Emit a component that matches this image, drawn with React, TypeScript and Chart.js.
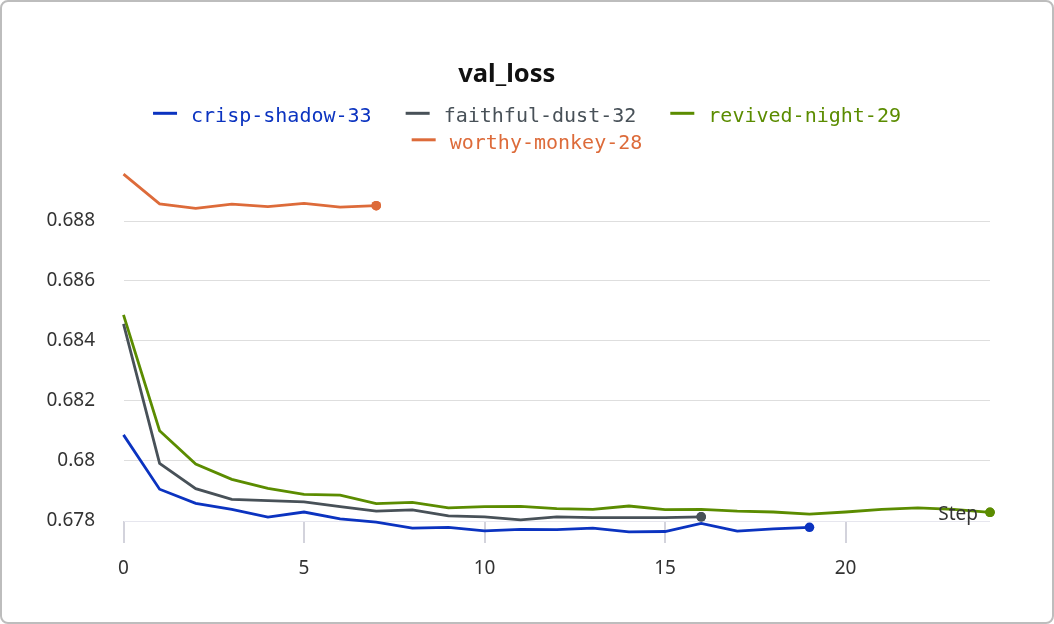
import React, { useEffect, useRef } from 'react';
import { Chart, registerables } from 'chart.js';

Chart.register(...registerables);

// ---- data ----
const chartTitle = 'val_loss';
const xAxisTitle = 'Step';
const steps = [0, 1, 2, 3, 4, 5, 6, 7, 8, 9, 10, 11, 12, 13, 14, 15, 16, 17, 18, 19, 20, 21, 22, 23, 24];

const seriesNames = ['crisp-shadow-33', 'faithful-dust-32', 'revived-night-29', 'worthy-monkey-28'];
const seriesColors = ['#0b33c0', '#485158', '#5b8c00', '#dd6b3a'];

const crispShadow33 = [
  0.68087, 0.67906, 0.67859, 0.67839, 0.67813, 0.6783, 0.67807, 0.67796, 0.67776, 0.67779,
  0.67767, 0.67772, 0.67771, 0.67776, 0.67764, 0.67765, 0.67792, 0.67766, 0.67774, 0.67779,
];
const faithfulDust32 = [
  0.68457, 0.67992, 0.67908, 0.67872, 0.67868, 0.67864, 0.67848, 0.67833, 0.67837, 0.67817,
  0.67814, 0.67804, 0.67814, 0.67811, 0.67811, 0.67811, 0.67814,
];
const revivedNight29 = [
  0.68487, 0.68101, 0.6799, 0.67939, 0.67909, 0.67889, 0.67886, 0.67858, 0.67862, 0.67844,
  0.67848, 0.67849, 0.67841, 0.67839, 0.6785, 0.67838, 0.67839, 0.67833, 0.6783, 0.67823,
  0.6783, 0.67839, 0.67844, 0.67839, 0.67829,
];
const worthyMonkey28 = [0.68956, 0.68857, 0.68842, 0.68856, 0.68848, 0.68859, 0.68846, 0.68851];

const seriesValues = [crispShadow33, faithfulDust32, revivedNight29, worthyMonkey28];

const yMin = 0.678;
const yMax = 0.6898;
const yStep = 0.002;
const xMin = 0;
const xMax = 24;
const xStep = 5;

const tickFont = { family: '"Noto Sans", sans-serif', size: 19 };
const legendFont = '20px "DejaVu Sans Mono", monospace';

const rowLegend = {
  id: 'rowLegend',
  afterDraw(chart: any) {
    const ctx = chart.ctx;
    ctx.save();
    ctx.font = legendFont;
    const boxW = 24;
    const textGap = 14;
    const itemGap = 34;
    const maxW = 900;
    const items = chart.data.datasets.map((ds: any) => ({
      text: ds.label,
      color: ds.borderColor,
      w: boxW + textGap + ctx.measureText(ds.label).width,
    }));
    const rows: any[] = [];
    let cur: any[] = [];
    let curW = 0;
    items.forEach((it: any) => {
      const add = cur.length ? itemGap + it.w : it.w;
      if (cur.length && curW + add > maxW) {
        rows.push({ items: cur, w: curW });
        cur = [it];
        curW = it.w;
      } else {
        cur.push(it);
        curW += add;
      }
    });
    if (cur.length) rows.push({ items: cur, w: curW });
    rows.forEach((row: any, r: number) => {
      let x = chart.width / 2 - row.w / 2;
      const base = 120 + r * 26.5;
      row.items.forEach((it: any) => {
        ctx.fillStyle = it.color;
        ctx.fillRect(x, base - 10.2, boxW, 3);
        ctx.textAlign = 'left';
        ctx.textBaseline = 'alphabetic';
        ctx.fillText(it.text, x + boxW + textGap, base);
        x += it.w + itemGap;
      });
    });
    ctx.restore();
  },
};

// draws the "Step" axis caption inside the plot and makes sure each run's
// end marker (a Chart.js point element) is drawn even when it dips below the axis line
const stepLabel = {
  id: 'stepLabel',
  afterDatasetsDraw(chart: any) {
    const { ctx, chartArea } = chart;
    const wide = { left: -1e4, top: -1e4, right: 1e4, bottom: 1e4 };
    chart.getSortedVisibleDatasetMetas().forEach((meta: any) => {
      const el = meta.data[meta.data.length - 1];
      if (el) el.draw(ctx, wide);
    });
    ctx.save();
    ctx.font = '19px "Noto Sans", sans-serif';
    ctx.fillStyle = '#333333';
    ctx.textAlign = 'right';
    ctx.textBaseline = 'alphabetic';
    ctx.fillText(xAxisTitle, chartArea.right - 12, chartArea.bottom - 1);
    ctx.restore();
  },
};

export default function App() {
  const canvasRef = useRef<HTMLCanvasElement | null>(null);

  useEffect(() => {
    if (!canvasRef.current) return;
    const datasets = seriesNames.map((name, i) => {
      const vals = seriesValues[i];
      return {
        label: name,
        data: vals.map((v, j) => ({ x: steps[j], y: v })),
        borderColor: seriesColors[i],
        backgroundColor: seriesColors[i],
        borderWidth: 2.8,
        tension: 0,
        clip: false as any,
        pointRadius: vals.map((_, j) => (j === vals.length - 1 ? 4.8 : 0)),
        pointHoverRadius: 0,
        pointBorderWidth: 0,
        pointBackgroundColor: seriesColors[i],
        fill: false,
      };
    });

    const chart = new Chart(canvasRef.current, {
      type: 'line',
      data: { datasets },
      plugins: [rowLegend, stepLabel],
      options: {
        animation: false,
        responsive: true,
        maintainAspectRatio: false,
        layout: { padding: { left: 21.5, right: 62, top: 0, bottom: 0 } },
        plugins: {
          legend: { display: false },
          tooltip: { enabled: false },
          title: {
            display: true,
            text: chartTitle,
            color: '#111111',
            font: { family: '"Noto Sans", sans-serif', size: 25.5, weight: 'bold' },
            padding: { top: 57, bottom: 77.4 },
          },
        },
        scales: {
          x: {
            type: 'linear',
            min: xMin,
            max: xMax,
            border: { display: false },
            grid: {
              drawOnChartArea: false,
              drawTicks: true,
              tickLength: 22,
              color: '#d3d3dc',
              lineWidth: 2,
            },
            ticks: {
              stepSize: xStep,
              includeBounds: false,
              padding: 14.6,
              color: '#333333',
              font: tickFont,
              maxRotation: 0,
            },
            afterFit: (scale: any) => {
              scale.height = 101;
            },
          },
          y: {
            type: 'linear',
            min: yMin,
            max: yMax,
            border: { display: false },
            grid: {
              drawTicks: false,
              color: (c: any) => (c.tick && c.tick.value <= yMin + 1e-7 ? '#e6e6ee' : '#dedede'),
              lineWidth: 1,
            },
            ticks: {
              stepSize: yStep,
              includeBounds: false,
              padding: 28.5,
              color: '#333333',
              font: tickFont,
              callback: (v: any) => String(parseFloat(Number(v).toFixed(3))),
            },
            afterFit: (scale: any) => {
              scale.width = 100;
            },
          },
        },
      } as any,
    });
    return () => chart.destroy();
  }, []);

  return (
    <div
      style={{
        position: 'fixed',
        left: 0,
        top: 0,
        width: 1054,
        height: 624,
        boxSizing: 'border-box',
        border: '2px solid #bdbdbd',
        borderRadius: 8,
        background: '#ffffff',
        overflow: 'hidden',
      }}
    >
      <div style={{ position: 'relative', width: 1050, height: 620 }}>
        <canvas ref={canvasRef} />
      </div>
    </div>
  );
}
